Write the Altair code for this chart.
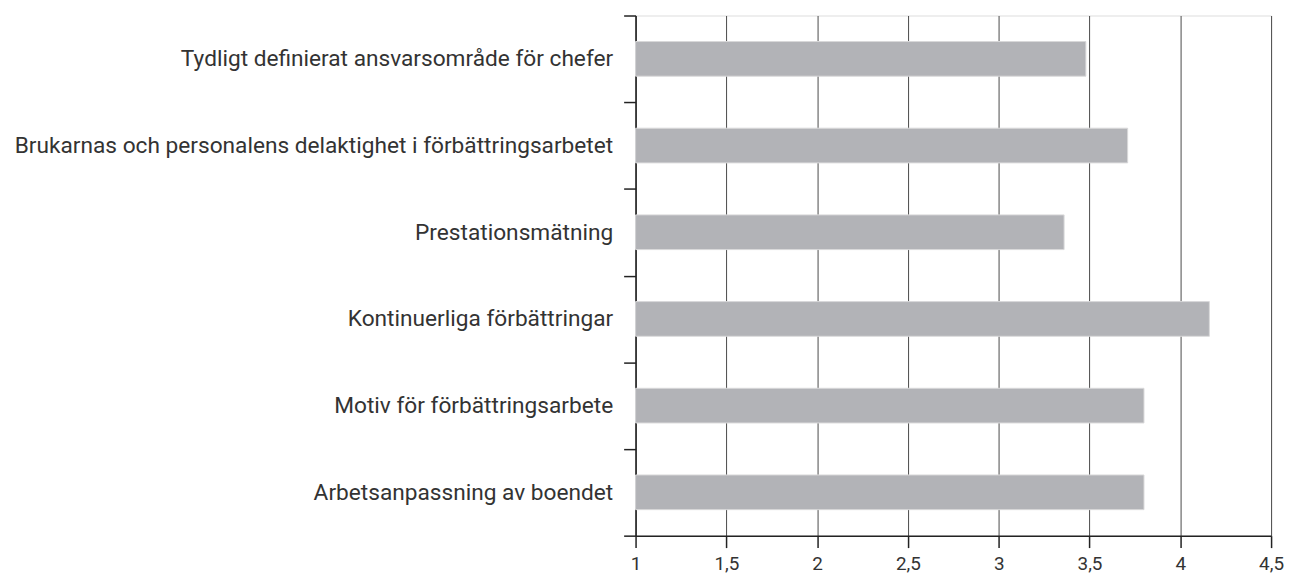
import altair as alt
import pandas as pd

categories = [
    "Tydligt definierat ansvarsområde för chefer",
    "Brukarnas och personalens delaktighet i förbättringsarbetet",
    "Prestationsmätning",
    "Kontinuerliga förbättringar",
    "Motiv för förbättringsarbete",
    "Arbetsanpassning av boendet",
]
values = [3.48, 3.71, 3.36, 4.16, 3.80, 3.80]
x_ticks = [1, 1.5, 2, 2.5, 3, 3.5, 4, 4.5]

df = pd.DataFrame({"kategori": categories, "varde": values})

FONT = "Roboto"
TEXT = "#333333"

bars = alt.Chart(df).mark_bar(
    color="#b2b3b7", stroke="#d9d9da", strokeWidth=1,
    height=alt.RelativeBandSize(0.4),
).encode(
    y=alt.Y(
        "kategori:N",
        sort=categories,
        title=None,
        scale=alt.Scale(paddingInner=0, paddingOuter=0),
        axis=alt.Axis(
            tickBand="extent",
            grid=False,
            ticks=True,
            tickSize=12,
            tickColor="#222222",
            tickWidth=1.5,
            domainColor="#222222",
            domainWidth=1.5,
            labelFont=FONT,
            labelFontSize=22.8,
            labelFontWeight=400,
            labelColor=TEXT,
            labelPadding=11,
            labelLimit=0,
        ),
    ),
    x=alt.X(
        "varde:Q",
        title=None,
        scale=alt.Scale(domain=[1, 4.5], zero=False, nice=False),
        axis=alt.Axis(
            values=x_ticks,
            labelExpr="replace(format(datum.value, '~g'), '.', ',')",
            grid=True,
            gridColor="#4a4a4a",
            gridWidth=1,
            tickSize=12,
            tickColor="#222222",
            tickWidth=1.5,
            domainColor="#222222",
            domainWidth=1.5,
            labelFont=FONT,
            labelFontSize=19,
            labelFontWeight=400,
            labelColor=TEXT,
            labelBaseline="alphabetic",
            labelPadding=22,
            labelFlush=False,
        ),
    ),
    x2=alt.datum(1),
)

chart = bars.properties(
    width=639,
    height=523,
    autosize=alt.AutoSizeParams(type="none"),
    padding={"left": 631, "top": 6, "right": 16, "bottom": 38},
).configure_view(stroke=None).configure(background="white")

chart.save("out.html", embed_options={"renderer": "svg", "actions": False})
